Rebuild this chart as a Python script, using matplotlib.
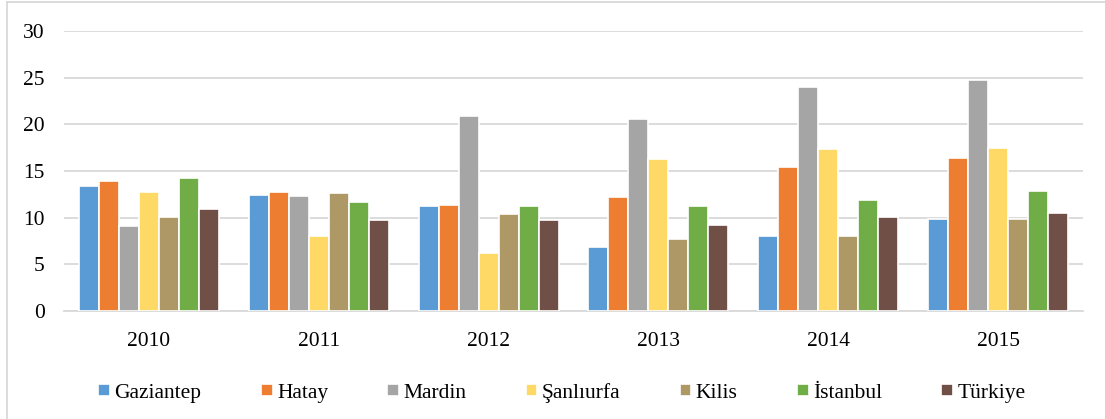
import matplotlib
matplotlib.use("Agg")
import matplotlib.pyplot as plt
import numpy as np
from matplotlib.lines import Line2D

plt.rcParams['font.family'] = ['Liberation Serif', 'DejaVu Serif']

years = ["2010", "2011", "2012", "2013", "2014", "2015"]
series_names = ["Gaziantep", "Hatay", "Mardin", "Şanlıurfa", "Kilis", "İstanbul", "Türkiye"]
gaziantep = [13.4, 12.4, 11.2, 6.9, 8.0, 9.9]
hatay = [13.9, 12.7, 11.4, 12.2, 15.4, 16.4]
mardin = [9.1, 12.3, 20.9, 20.6, 24.0, 24.8]
sanliurfa = [12.7, 8.0, 6.2, 16.3, 17.4, 17.5]
kilis = [10.1, 12.6, 10.4, 7.7, 8.0, 9.9]
istanbul = [14.2, 11.7, 11.2, 11.2, 11.9, 12.9]
turkiye = [10.9, 9.8, 9.7, 9.2, 10.1, 10.5]
yticks = [0, 5, 10, 15, 20, 25, 30]

series = [gaziantep, hatay, mardin, sanliurfa, kilis, istanbul, turkiye]
colors = ["#5B9BD5", "#ED7D31", "#A5A5A5", "#FFD966", "#AD9866", "#70AD47", "#704F46"]

W, H = 1105, 419
fig = plt.figure(figsize=(W / 100, H / 100), dpi=100)
left, right, top, bottom = 64, 1083, 31, 311
ax = fig.add_axes([left / W, 1 - bottom / H, (right - left) / W, (bottom - top) / H])

x = np.arange(len(years))
n = len(series)
pitch = 20 / ((right - left) / 6)
for i, (vals, c, name) in enumerate(zip(series, colors, series_names)):
    ax.bar(x + (i - (n - 1) / 2) * pitch, vals, width=pitch, color=c,
           edgecolor="white", linewidth=1.2, label=name, zorder=3)

fs = 15.5
ax.set_xlim(-0.5, len(years) - 0.5)
ax.set_ylim(0, 30)
ax.set_yticks(yticks)
ax.set_yticklabels([str(t) for t in yticks], fontsize=fs)
ax.set_xticks(x)
ax.set_xticklabels(years, fontsize=fs)
ax.tick_params(axis='both', length=0)
ax.tick_params(axis='y', pad=14)
ax.tick_params(axis='x', pad=15)
ax.yaxis.grid(True, color="#D9D9D9", linewidth=1.3, zorder=0)
ax.set_axisbelow(True)
for s in ["top", "right", "left"]:
    ax.spines[s].set_visible(False)
ax.spines["bottom"].set_color("#D9D9D9")
ax.spines["bottom"].set_linewidth(1.3)

leg = fig.legend(loc="center", bbox_to_anchor=(562 / W, 1 - 393 / H), ncol=7,
                 frameon=False, fontsize=fs, handlelength=0.55, handleheight=0.5,
                 handletextpad=0.2, columnspacing=2.75, borderaxespad=0)

# outer chart border (left and top)
fig.add_artist(Line2D([7 / W, 7 / W], [0, 1 - 2 / H], color="#D9D9D9", linewidth=1.3,
                      transform=fig.transFigure))
fig.add_artist(Line2D([7 / W, 1], [1 - 2 / H, 1 - 2 / H], color="#D9D9D9", linewidth=1.3,
                      transform=fig.transFigure))

fig.savefig("out.png", dpi=100)
